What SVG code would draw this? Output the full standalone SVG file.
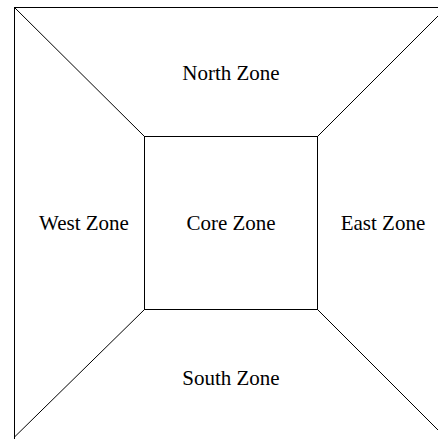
<svg xmlns="http://www.w3.org/2000/svg" width="438" height="439" viewBox="0 0 438 439">
<style>
.l{stroke:#000;stroke-width:1;fill:none}
.t{font-family:"Liberation Serif",serif;font-size:21px;fill:#000;text-anchor:middle}
</style>
<rect width="438" height="439" fill="#fff"/>
<g id="connectors">
<line class="l" x1="14.5" y1="7.5" x2="438" y2="7.5"/>
<line class="l" x1="14.5" y1="7" x2="14.5" y2="439"/>
<line class="l" x1="14.5" y1="7.5" x2="144.5" y2="136.5"/>
<line class="l" x1="438" y1="16" x2="317.5" y2="136.5"/>
<line class="l" x1="14.5" y1="437" x2="144.5" y2="309.5"/>
<line class="l" x1="317.5" y1="309.5" x2="438" y2="430"/>
</g>
<g id="core"><rect class="l" x="144.5" y="136.5" width="173" height="173"/><text class="t" x="231" y="230">Core Zone</text></g>
<g id="north"><text class="t" x="231" y="80">North Zone</text></g>
<g id="west"><text class="t" x="84" y="230">West Zone</text></g>
<g id="east"><text class="t" x="383" y="230">East Zone</text></g>
<g id="south"><text class="t" x="231" y="385">South Zone</text></g>
</svg>
